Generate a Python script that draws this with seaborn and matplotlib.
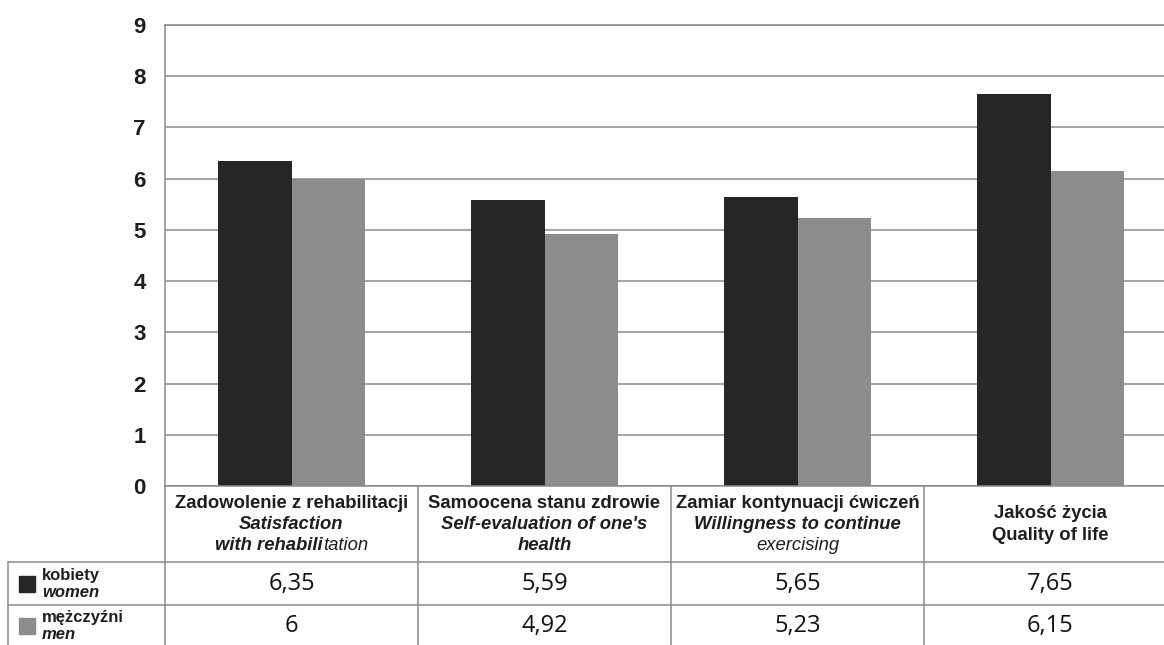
"""
Wykres słupkowy z tabelą danych: kobiety vs mężczyźni
"""

import numpy as np
import pandas as pd
import matplotlib
matplotlib.use('Agg')
import matplotlib.pyplot as plt
import seaborn as sns

# Dane
categories = ['Zadowolenie', 'Samoocena', 'Zamiar', 'Jakosc']
women = [6.35, 5.59, 5.65, 7.65]
men = [6.0, 4.92, 5.23, 6.15]
women_txt = ['6,35', '5,59', '5,65', '7,65']
men_txt = ['6', '4,92', '5,23', '6,15']
yticks = [0, 1, 2, 3, 4, 5, 6, 7, 8, 9]

# Nagłówki tabeli: (tekst, pogrubienie, kursywa) dla każdej linii
header_lines = [
    [('Zadowolenie z rehabilitacji', 'bold', 'normal'),
     ('Satisfaction', 'bold', 'italic'),
     (('with rehabili', 'bold', 'italic'), ('tation', 'normal', 'italic'))],
    [('Samoocena stanu zdrowie', 'bold', 'normal'),
     ("Self-evaluation of one's", 'bold', 'italic'),
     ('health', 'bold', 'italic')],
    [('Zamiar kontynuacji ćwiczeń', 'bold', 'normal'),
     ('Willingness to continue', 'bold', 'italic'),
     ('exercising', 'normal', 'italic')],
    [('Jakość życia', 'bold', 'normal'),
     ('Quality of life', 'bold', 'normal')],
]
row_labels = [('kobiety', 'women'), ('mężczyźni', 'men')]

DARK = '#262626'
GREY = '#8c8c8c'
LINE = '#8a8a8a'
TXT = '#1e1e1e'

sns.set_style('white')
plt.rcParams['font.family'] = ['Liberation Sans', 'DejaVu Sans']

df = pd.DataFrame({
    'cat': categories * 2,
    'sex': ['kobiety'] * 4 + ['mężczyźni'] * 4,
    'value': women + men,
})

W, H = 1164, 645
fig = plt.figure(figsize=(W / 100, H / 100), dpi=100)

# Geometria w pikselach
x0, y_top, y_zero = 165, 25, 486
col_px = 253
x1 = x0 + 4 * col_px
ax = fig.add_axes([x0 / W, (H - y_zero) / H, (x1 - x0) / W, (y_zero - y_top) / H])

sns.barplot(data=df, x='cat', y='value', hue='sex', palette=[DARK, GREY],
            width=0.58, saturation=1, linewidth=0, legend=False, ax=ax)

ax.set_xlim(-0.5, 3.5)
ax.set_ylim(0, 9)
ax.set_yticks(yticks)
ax.set_yticklabels([str(t) for t in yticks], fontsize=16, fontweight='bold',
                   color=TXT)
ax.tick_params(axis='y', length=0, pad=14)
ax.set_xticks([])
ax.set_xlabel('')
ax.set_ylabel('')
ax.set_axisbelow(True)
ax.yaxis.grid(True, color=LINE, linewidth=1.1)
for s in ['left', 'bottom', 'top']:
    ax.spines[s].set_color(LINE)
    ax.spines[s].set_linewidth(1.1)
ax.spines['right'].set_visible(False)

# Tabela danych pod wykresem
tab = fig.add_axes([x0 / W, 0, (x1 - x0) / W, (H - y_zero) / H])
tab.set_xlim(-0.5, 3.5)
tab.set_ylim(H, y_zero)
tab.axis('off')


def px2x(px):
    return -0.5 + (px - x0) / col_px


r1, r2 = 562, 605
xl = px2x(8)
lk = dict(color=LINE, linewidth=1.1, clip_on=False)
tab.plot([xl, 3.5], [r1, r1], **lk)
tab.plot([xl, 3.5], [r2, r2], **lk)
tab.plot([xl, xl], [r1, H + 5], **lk)
for b in [-0.5, 0.5, 1.5, 2.5]:
    tab.plot([b, b], [y_zero, H + 5], **lk)

# Nagłówki
fig.canvas.draw()
renderer = fig.canvas.get_renderer()
hfs = 13.3
for i, lines in enumerate(header_lines):
    n = len(lines)
    gap = 21 if n == 3 else 22
    for k, line in enumerate(lines):
        y = 525 + (k - (n - 1) / 2) * gap
        if isinstance(line[0], tuple):
            # linia złożona z dwóch stylów
            parts = [tab.text(0, y, t, fontsize=hfs, fontweight=w, fontstyle=st,
                              color=TXT, va='center', ha='left')
                     for t, w, st in line]
            widths = [p.get_window_extent(renderer).width for p in parts]
            start_px = x0 + (i + 0.5) * col_px - sum(widths) / 2
            for p, wd in zip(parts, widths):
                p.set_x(px2x(start_px))
                start_px += wd
        else:
            t, w, st = line
            tab.text(i, y, t, fontsize=hfs, fontweight=w, fontstyle=st,
                     color=TXT, ha='center', va='center')

# Wartości
vfont = ['Open Sans', 'DejaVu Sans']
for i in range(4):
    tab.text(i, 584, women_txt[i], fontsize=17, family=vfont,
             color='#111111', ha='center', va='center')
    tab.text(i, 626, men_txt[i], fontsize=17, family=vfont,
             color='#111111', ha='center', va='center')

# Etykiety wierszy z kwadratami legendy
for (pl, en), yc, col in zip(row_labels, [584, 626], [DARK, GREY]):
    tab.plot([px2x(26.5)], [yc], marker='s', markersize=11, color=col,
             linestyle='none', clip_on=False)
    tab.text(px2x(42), yc - 8.5, pl, fontsize=12, fontweight='bold',
             color=TXT, ha='left', va='center', clip_on=False)
    tab.text(px2x(42), yc + 8.5, en, fontsize=12, fontweight='bold',
             fontstyle='italic', color=TXT, ha='left', va='center',
             clip_on=False)

fig.savefig('out.png', dpi=100)
plt.close(fig)
